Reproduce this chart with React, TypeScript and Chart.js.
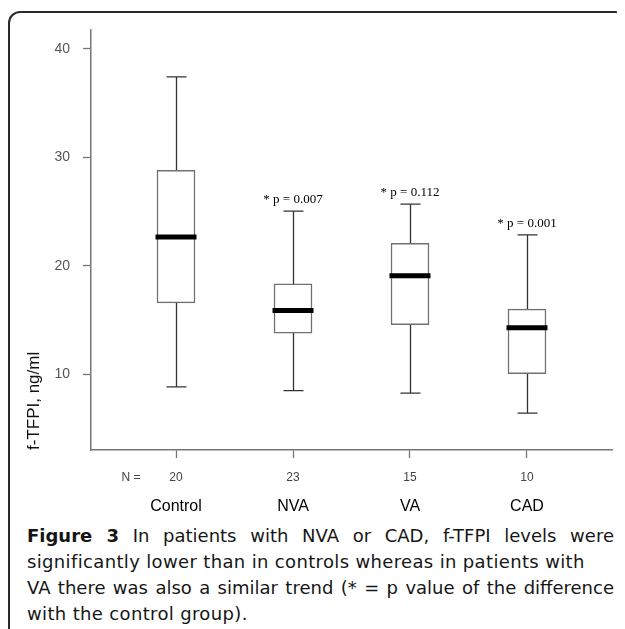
import React, { useEffect, useRef } from 'react';
import { Chart, registerables } from 'chart.js';

Chart.register(...registerables);

const categories = ['Control', 'NVA', 'VA', 'CAD'];
const nCounts = ['20', '23', '15', '10'];
const nLabel = 'N =';
const whiskerLow = [8.83, 8.47, 8.25, 6.41];
const q1 = [16.57, 13.77, 14.57, 10.03];
const median = [22.64, 15.86, 19.08, 14.27];
const q3 = [28.8, 18.32, 22.06, 15.99];
const whiskerHigh = [37.42, 25.03, 25.68, 22.85];
const pLabels = ['', '* p = 0.007', '* p = 0.112', '* p = 0.001'];
const yTicks = [10, 20, 30, 40];
const yTitle = 'f-TFPI, ng/ml';
const captionBold = 'Figure 3';
const captionLines = [
  ' In patients with NVA or CAD, f-TFPI levels were',
  'significantly lower than in controls whereas in patients with',
  'VA there was also a similar trend (* = p value of the difference',
  'with the control group).',
];

const X_MIN = 0.2735;
const X_MAX = 4.7265;
const N_POS = 0.615;

const boxParts = {
  id: 'boxParts',
  beforeDatasetsDraw(chart: any) {
    const { ctx } = chart;
    const x = chart.scales.x;
    const y = chart.scales.y;
    ctx.save();
    ctx.strokeStyle = '#333';
    ctx.lineWidth = 1.3;
    categories.forEach((_, i) => {
      const px = Math.round(x.getPixelForValue(i + 1)) + 0.5;
      const top = y.getPixelForValue(whiskerHigh[i]);
      const bot = y.getPixelForValue(whiskerLow[i]);
      ctx.beginPath();
      ctx.moveTo(px, top);
      ctx.lineTo(px, bot);
      ctx.moveTo(px - 10, top);
      ctx.lineTo(px + 10, top);
      ctx.moveTo(px - 10, bot);
      ctx.lineTo(px + 10, bot);
      ctx.stroke();
    });
    ctx.restore();
  },
  afterDatasetsDraw(chart: any) {
    const { ctx } = chart;
    const x = chart.scales.x;
    const y = chart.scales.y;
    ctx.save();
    categories.forEach((_, i) => {
      const px = x.getPixelForValue(i + 1);
      const my = y.getPixelForValue(median[i]);
      ctx.strokeStyle = '#000';
      ctx.lineWidth = 5;
      ctx.beginPath();
      ctx.moveTo(px - 20.5, my);
      ctx.lineTo(px + 20.5, my);
      ctx.stroke();
      if (pLabels[i]) {
        ctx.fillStyle = '#000';
        ctx.font = '13px "Liberation Serif"';
        ctx.textAlign = 'center';
        ctx.textBaseline = 'alphabetic';
        ctx.fillText(pLabels[i], px, y.getPixelForValue(whiskerHigh[i]) - 8);
      }
    });
    ctx.restore();
  },
};

export default function App() {
  const ref = useRef<HTMLCanvasElement>(null);
  useEffect(() => {
    if (!ref.current) return;
    const chart = new Chart(ref.current, {
      type: 'bar',
      data: {
        datasets: [
          {
            data: categories.map((_, i) => ({ x: i + 1, y: [q1[i], q3[i]] })) as any,
            backgroundColor: '#fff',
            borderColor: '#707070',
            borderWidth: 1.5,
            borderSkipped: false,
            barThickness: 38,
            grouped: false,
            xAxisID: 'x',
            yAxisID: 'y',
          } as any,
        ],
      },
      options: {
        animation: false,
        responsive: false,
        devicePixelRatio: 1,
        layout: { padding: { top: 21, right: 13, bottom: 2, left: 0 } },
        plugins: { legend: { display: false }, tooltip: { enabled: false } },
        scales: {
          x: {
            type: 'linear',
            position: 'bottom',
            weight: 0,
            min: X_MIN,
            max: X_MAX,
            offset: false,
            afterBuildTicks: (s: any) => {
              s.ticks = [{ value: N_POS }, ...categories.map((_, i) => ({ value: i + 1 }))];
            },
            afterFit: (s: any) => {
              s.height = 38;
            },
            grid: {
              display: true,
              drawOnChartArea: false,
              drawTicks: true,
              tickLength: 8,
              offset: false,
              color: '#777',
              tickColor: (c: any) => (c.tick && c.tick.value < 1 ? 'rgba(0,0,0,0)' : '#777'),
              tickWidth: 1.3,
            },
            border: { display: true, color: '#777', width: 1.5 },
            ticks: {
              autoSkip: false,
              maxRotation: 0,
              minRotation: 0,
              padding: 12,
              color: '#444',
              font: { family: 'Liberation Sans', size: 12 },
              callback: (v: any) => (v === N_POS ? nLabel : nCounts[Math.round(v) - 1]),
            },
          },
          x2: {
            type: 'linear',
            position: 'bottom',
            weight: 1,
            min: X_MIN,
            max: X_MAX,
            offset: false,
            afterBuildTicks: (s: any) => {
              s.ticks = categories.map((_, i) => ({ value: i + 1 }));
            },
            afterFit: (s: any) => {
              s.height = 33;
            },
            grid: { display: false },
            border: { display: false },
            ticks: {
              autoSkip: false,
              maxRotation: 0,
              minRotation: 0,
              padding: 1,
              color: '#000',
              font: { family: 'Liberation Sans', size: 16 },
              callback: (v: any) => categories[Math.round(v) - 1],
            },
          },
          y: {
            type: 'linear',
            min: 3,
            max: 41.8,
            beginAtZero: false,
            afterBuildTicks: (s: any) => {
              s.ticks = yTicks.map((v) => ({ value: v }));
            },
            afterFit: (s: any) => {
              s.width = 83;
            },
            grid: {
              drawOnChartArea: false,
              drawTicks: true,
              tickLength: 8,
              color: '#777',
              tickWidth: 1.3,
            },
            border: { display: true, color: '#777', width: 1.5 },
            ticks: {
              padding: 13,
              color: '#555',
              font: { family: 'Liberation Sans', size: 14 },
            },
            title: {
              display: true,
              text: yTitle,
              align: 'start',
              color: '#111',
              font: { family: 'Liberation Sans', size: 17 },
              padding: { top: 16, bottom: 0 },
            },
          },
        },
      } as any,
      plugins: [boxParts],
    });
    return () => chart.destroy();
  }, []);

  const lineBase: React.CSSProperties = {
    whiteSpace: 'nowrap',
    height: 26,
    lineHeight: '26px',
    letterSpacing: '0.35px',
  };
  const justified: React.CSSProperties = {
    ...lineBase,
    whiteSpace: 'normal',
    letterSpacing: '0px',
    textAlign: 'justify',
    textAlignLast: 'justify' as any,
  };

  return (
    <div style={{ position: 'relative', width: 617, height: 621, overflow: 'hidden' }}>
      <div
        style={{
          position: 'absolute',
          left: 0,
          top: 3,
          width: 619,
          height: 700,
          borderTop: '2px solid #2a2a2a',
          borderLeft: '2px solid #2a2a2a',
          borderRight: '2px solid #2a2a2a',
          borderTopLeftRadius: 12,
          borderTopRightRadius: 12,
          boxSizing: 'border-box',
        }}
      />
      <canvas
        ref={ref}
        width={617}
        height={515}
        style={{ position: 'absolute', left: 0, top: 0, width: 617, height: 515 }}
      />
      <div
        style={{
          position: 'absolute',
          left: 19,
          top: 515,
          width: 587,
          fontFamily: '"DejaVu Sans", sans-serif',
          fontSize: 18,
          color: '#161616',
        }}
      >
        <div style={justified}>
          <b>{captionBold}</b>
          {captionLines[0]}
        </div>
        <div style={lineBase}>{captionLines[1]}</div>
        <div style={justified}>{captionLines[2]}</div>
        <div style={lineBase}>{captionLines[3]}</div>
      </div>
    </div>
  );
}
